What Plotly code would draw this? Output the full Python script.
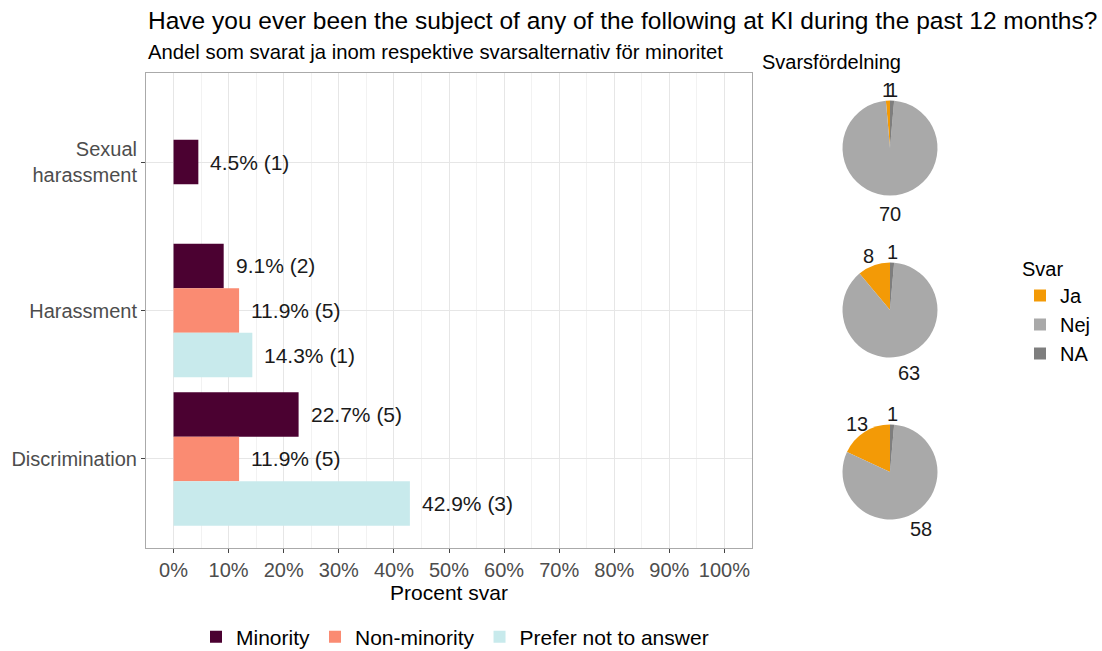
import math
import plotly.graph_objects as go

# ---------------- data ----------------
categories = ["Sexual harassment", "Harassment", "Discrimination"]
category_ticktext = ["Sexual<br>harassment", "Harassment", "Discrimination"]
groups = ["Minority", "Non-minority", "Prefer not to answer"]

minority_pct = [4.5, 9.1, 22.7]
minority_n = [1, 2, 5]
nonminority_pct = [None, 11.9, 11.9]
nonminority_n = [None, 5, 5]
prefer_pct = [None, 14.3, 42.9]
prefer_n = [None, 1, 3]

pie_labels = ["Ja", "Nej", "NA"]
ja_counts = [1, 8, 13]
nej_counts = [70, 63, 58]
na_counts = [1, 1, 1]

x_ticks = list(range(0, 101, 10))
x_ticklabels = [f"{v}%" for v in x_ticks]

# ---------------- styles ----------------
W, H = 1102, 651
group_colors = {"Minority": "#4B0131", "Non-minority": "#FA8B72", "Prefer not to answer": "#C8EAEC"}
pie_colors = ["#F39A06", "#A9A9A9", "#7E7E7E"]
FONT = "Liberation Sans, Arial, sans-serif"
bar_w = 0.3

# panel geometry (pixels)
px_left, px_right, px_top, px_bottom = 146, 752, 73, 548

def px2x(p):
    return p / W

def px2y(p):
    return 1 - p / H

fig = go.Figure()

series_pct = [minority_pct, nonminority_pct, prefer_pct]
series_n = [minority_n, nonminority_n, prefer_n]

# dodge positions: groups present per category, centred on category
positions = {g: [None] * len(categories) for g in groups}
for ci in range(len(categories)):
    present = [gi for gi in range(len(groups)) if series_pct[gi][ci] is not None]
    n = len(present)
    for k, gi in enumerate(present):
        positions[groups[gi]][ci] = ci + (k - (n - 1) / 2) * bar_w

annotations = []
for gi, g in enumerate(groups):
    xs, ys = [], []
    for ci in range(len(categories)):
        v = series_pct[gi][ci]
        if v is None:
            continue
        xs.append(v)
        ys.append(positions[g][ci])
        annotations.append(dict(
            x=v, y=positions[g][ci], xref="x", yref="y",
            text=f"{v}% ({series_n[gi][ci]})", showarrow=False,
            xanchor="left", yanchor="middle", xshift=10,
            font=dict(family=FONT, size=21, color="#1a1a1a")))
    fig.add_trace(go.Bar(
        x=xs, y=ys, orientation="h", width=bar_w, name=g,
        marker=dict(color=group_colors[g], line=dict(width=0)),
        legend="legend", hoverinfo="x+name"))

# ---------------- pies ----------------
pie_cx = 890
pie_cys = [148, 310, 472]
R = 47.5
for i in range(len(categories)):
    cy = pie_cys[i]
    vals = [ja_counts[i], nej_counts[i], na_counts[i]]
    total = sum(vals)
    fig.add_trace(go.Pie(
        labels=pie_labels, values=vals, sort=False,
        direction="counterclockwise", rotation=-360 * vals[0] / total,
        marker=dict(colors=pie_colors, line=dict(width=0)),
        textinfo="none", hoverinfo="label+value",
        domain=dict(x=[px2x(pie_cx - R), px2x(pie_cx + R)],
                    y=[px2y(cy + R), px2y(cy - R)]),
        showlegend=(i == 0), legend="legend2"))
    cum = 0
    # slices run counterclockwise from 12 o'clock
    for lab, v in zip(pie_labels, vals):
        mid = cum + v / 2
        cum += v
        theta = math.radians(360 - mid / total * 360)
        r = 1.3 * R
        lx = pie_cx + r * math.sin(theta)
        ly = cy - r * math.cos(theta)
        annotations.append(dict(
            x=px2x(lx), y=px2y(ly), xref="paper", yref="paper",
            text=str(v), showarrow=False, xanchor="center", yanchor="middle",
            yshift=-4,
            font=dict(family=FONT, size=20, color="#1a1a1a")))

# titles
annotations.append(dict(
    x=px2x(146), y=px2y(21), xref="paper", yref="paper", xanchor="left", yanchor="middle",
    text="Have you ever been the subject of any of the following at KI during the past 12 months?",
    showarrow=False, font=dict(family=FONT, size=24.5, color="#000000")))
annotations.append(dict(
    x=px2x(146), y=px2y(52), xref="paper", yref="paper", xanchor="left", yanchor="middle",
    text="Andel som svarat ja inom respektive svarsalternativ för minoritet",
    showarrow=False, font=dict(family=FONT, size=20.3, color="#000000")))
annotations.append(dict(
    x=px2x(760), y=px2y(62), xref="paper", yref="paper", xanchor="left", yanchor="middle",
    text="Svarsfördelning",
    showarrow=False, font=dict(family=FONT, size=20, color="#000000")))

fig.update_layout(
    width=W, height=H,
    margin=dict(l=0, r=0, t=0, b=0, autoexpand=False),
    paper_bgcolor="white", plot_bgcolor="white",
    font=dict(family=FONT, color="#000000"),
    barmode="overlay",
    xaxis=dict(
        domain=[px2x(px_left), px2x(px_right)],
        range=[-5, 105], tickvals=x_ticks, ticktext=x_ticklabels,
        showgrid=True, gridcolor="#E6E6E6", gridwidth=1,
        minor=dict(dtick=5, tick0=0, showgrid=True, gridcolor="#F2F2F2", gridwidth=0.6, ticks=""),
        ticks="outside", ticklen=4, tickcolor="#444444",
        tickfont=dict(family=FONT, size=20, color="#4D4D4D"),
        showline=True, linecolor="#AAAAAA", linewidth=1, mirror=True,
        zeroline=False,
        title=dict(text="Procent svar", font=dict(family=FONT, size=21, color="#000000"), standoff=4),
        anchor="y"),
    yaxis=dict(
        domain=[px2y(px_bottom), px2y(px_top)],
        range=[len(categories) - 1 + 0.6, -0.6],
        tickvals=list(range(len(categories))), ticktext=category_ticktext,
        showgrid=True, gridcolor="#E6E6E6", gridwidth=1,
        ticks="outside", ticklen=4, tickcolor="#444444",
        tickfont=dict(family=FONT, size=20, color="#4D4D4D"),
        showline=True, linecolor="#AAAAAA", linewidth=1, mirror=True,
        zeroline=False, anchor="x"),
    legend=dict(
        orientation="h", x=px2x(455), xanchor="center", y=px2y(637), yanchor="middle",
        font=dict(family=FONT, size=21, color="#000000"),
        traceorder="normal", itemwidth=30, bgcolor="rgba(0,0,0,0)"),
    legend2=dict(
        title=dict(text="Svar", font=dict(family=FONT, size=20, color="#000000")),
        orientation="v", x=px2x(1020), xanchor="left", y=px2y(250), yanchor="top",
        font=dict(family=FONT, size=20, color="#000000"), bgcolor="rgba(0,0,0,0)"),
    annotations=annotations,
)

fig.write_html("out.html", post_script="document.body.style.margin='0';",
               config={"displayModeBar": False})
